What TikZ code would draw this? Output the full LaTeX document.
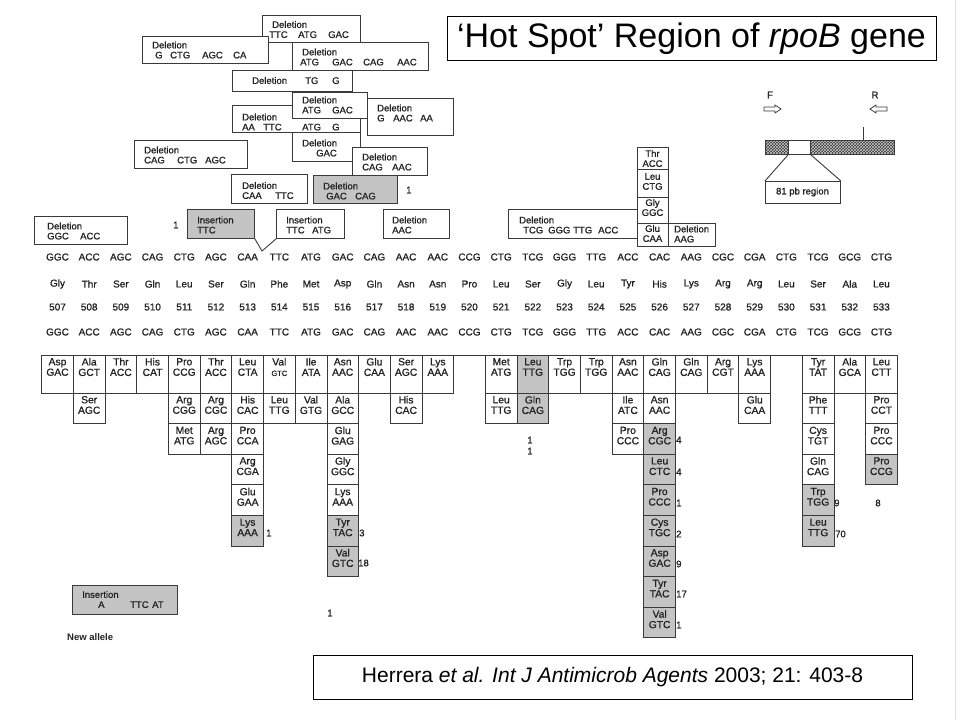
\documentclass[tikz,border=0pt]{standalone}
\usepackage{fontspec}
\setmainfont{Liberation Sans}
\newfontfamily\scanf{Liberation Sans}[FakeBold=0.9]
\usetikzlibrary{patterns}
\definecolor{ink}{HTML}{222222}
\definecolor{shade}{HTML}{C4C4C4}
\definecolor{edge}{HTML}{3A3A3A}
\tikzset{
  sm/.style={font=\scanf\fontsize{9.5}{10}\selectfont, text=ink, inner sep=0pt},
  cod/.style={font=\scanf\fontsize{10}{10.5}\selectfont, text=ink, inner sep=0pt},
  boxw/.style={draw=edge, line width=0.9pt, fill=white},
  boxg/.style={draw=edge, line width=0.9pt, fill=shade},
  cellline/.style={draw=edge, line width=0.7pt},
  celltxt/.style={font=\scanf\fontsize{10.3}{10.5}\selectfont, text=ink, inner sep=0pt, align=center},
  deltxt/.style={sm, align=left, anchor=west},
  cnt/.style={sm, anchor=west},
  frame/.style={draw=black, line width=0.9pt, fill=white, inner sep=0pt}
}
\newcommand\tkn[2]{\makebox[#1pt][l]{#2}}
\newcommand\dbx[6]{%
  \pgfmathsetmacro\bw{#5-#3}\pgfmathsetmacro\bh{#6-#4}%
  \node[#2, minimum width=\bw pt, minimum height=\bh pt, inner sep=0pt, anchor=north west] (#1) at (#3,#4) {};}
\newcommand\mcell[5]{%
  \pgfmathsetmacro\cx{57.5+#1*31.69}%
  \pgfmathsetmacro\xa{\cx-15.85}%
  \pgfmathsetmacro\xb{\cx+15.85}%
  \ifnum#2=0 \def\ya{355}\def\yb{393}\def\yt{367}\else
  \pgfmathsetmacro\ya{393+(#2-1)*30.6}\pgfmathsetmacro\yb{\ya+30.6}\pgfmathsetmacro\yt{\ya+12}\fi
  \draw[cellline, fill=#3] (\xa,\ya) rectangle (\xb,\yb);
  \node[celltxt] (m-#1-#2) at (\cx,\yt) {#4\\#5};}
\begin{document}
\begin{tikzpicture}[x=1pt,y=-1pt]
\useasboundingbox (0,0) rectangle (960,720);
\fill[white] (0,0) rectangle (960,720);
\draw[gray!25, line width=1pt] (955,0) -- (955,720);

% ---------- deletion / insertion boxes ----------
\dbx{dA}{boxw}{262}{15}{360}{42}
\node[deltxt] (dAt) at (269,29.5) {\hspace*{3pt}Deletion\\\tkn{29}{TTC}\tkn{30}{ATG}GAC};
\dbx{dB}{boxw}{142}{36}{268}{63}
\node[deltxt] (dBt) at (152,50) {Deletion\\\hspace*{3pt}\tkn{15}{G}\tkn{32}{CTG}\tkn{31}{AGC}CA};
\dbx{dC}{boxw}{292}{42}{428}{70}
\node[deltxt] (dCt) at (300,57) {\hspace*{2pt}Deletion\\\tkn{32}{ATG}\tkn{31}{GAC}\tkn{34}{CAG}AAC};
\dbx{dD}{boxw}{232}{70}{352}{91}
\node[deltxt] (dDt) at (252,80.5) {\tkn{53}{Deletion}\tkn{27}{TG}G};
\dbx{dF}{boxw}{232}{105}{360}{132}
\node[deltxt] (dFt) at (242,122) {Deletion\\\tkn{21}{AA}\tkn{39}{TTC}\tkn{30}{ATG}G};
\dbx{dE}{boxw}{292}{92}{367}{118}
\node[deltxt] (dEt) at (302,105) {Deletion\\\tkn{30}{ATG}GAC};
\dbx{dG}{boxw}{367}{98}{453}{135}
\node[deltxt] (dGt) at (377,113) {Deletion\\\tkn{16}{G}\tkn{27}{AAC}AA};
\dbx{dH}{boxw}{134}{140}{247}{168}
\node[deltxt] (dHt) at (144,155) {Deletion\\\tkn{33}{CAG}\tkn{28}{CTG}AGC};
\dbx{dI}{boxw}{292}{132}{360}{161}
\node[deltxt] (dIt) at (302,148) {Deletion\\\hspace*{14pt}GAC};
\dbx{dJ}{boxw}{352}{147}{427}{175}
\node[deltxt] (dJt) at (362,162) {Deletion\\\tkn{30}{CAG}AAC};
\dbx{dK}{boxw}{231}{174}{307}{203}
\node[deltxt] (dKt) at (242,190.5) {Deletion\\\tkn{33}{CAA}TTC};
\dbx{dL}{boxg}{313}{175}{397}{203}
\node[deltxt] (dLt) at (323,191) {Deletion\\\hspace*{3pt}\tkn{29}{GAC}CAG};
\node[cnt] (dLn) at (406,190) {1};
\dbx{dM}{boxg}{187}{209}{254}{238}
\node[deltxt] (dMt) at (197,225) {Insertion\\TTC};
\node[cnt] (dMn) at (173,225) {1};
\dbx{dN}{boxw}{276}{209}{344}{238}
\node[deltxt] (dNt) at (286,225) {Insertion\\\tkn{26}{TTC}ATG};
\dbx{dO}{boxw}{383}{209}{449}{238}
\node[deltxt] (dOt) at (392,225) {Deletion\\AAC};
\dbx{dP}{boxw}{34}{216}{127}{244}
\node[deltxt] (dPt) at (47,231) {Deletion\\\tkn{33}{GGC}ACC};
\dbx{dQ}{boxw}{508}{209}{637}{238}
\node[deltxt] (dQt) at (519,225) {Deletion\\\hspace*{4pt}\tkn{25}{TCG}\tkn{25}{GGG}\tkn{25}{TTG}ACC};
\dbx{s1}{boxw}{637}{147}{668}{169}
\node[sm, align=center] (s1t) at (652.5,158.5) {Thr\\ACC};
\dbx{s2}{boxw}{637}{169}{668}{197}
\node[sm, align=center] (s2t) at (652.5,181.5) {Leu\\CTG};
\dbx{s3}{boxw}{637}{197}{668}{223}
\node[sm, align=center] (s3t) at (652.5,207.5) {Gly\\GGC};
\dbx{s4}{boxw}{637}{223}{668}{246}
\node[sm, align=center] (s4t) at (652.5,233.5) {Glu\\CAA};
\dbx{dR}{boxw}{668}{223}{715}{246}
\node[deltxt] (dRt) at (674,234) {Deletion\\AAG};
% insertion caret
\coordinate (caret) at (262,251);
\draw[edge, line width=0.9pt] (dM.south east) -- (caret) -- (dN.south west);

% ---------- codon rows ----------
\foreach \c [count=\i from 0] in {GGC,ACC,AGC,CAG,CTG,AGC,CAA,TTC,ATG,GAC,CAG,AAC,AAC,CCG,CTG,TCG,GGG,TTG,ACC,CAC,AAG,CGC,CGA,CTG,TCG,GCG,CTG}{
  \node[cod] (ca\i) at ({57.5+\i*31.69},257) {\c};
  \node[cod] (cb\i) at ({57.5+\i*31.69},332) {\c};
  \pgfmathtruncatemacro\n{507+\i}
  \node[cod] (nu\i) at ({57.5+\i*31.69},307) {\n};
}
\foreach \a [count=\i from 0] in {Gly,Thr,Ser,Gln,Leu,Ser,Gln,Phe,Met,Asp,Gln,Asn,Asn,Pro,Leu,Ser,Gly,Leu,Tyr,His,Lys,Arg,Arg,Leu,Ser,Ala,Leu}{
  \node[cod] (aa\i) at ({57.5+\i*31.69},284) {\a};
}

% ---------- mutation table ----------
\draw[cellline] (41.6,355) -- (897.3,355);
\mcell{0}{0}{white}{Asp}{GAC}
\mcell{1}{0}{white}{Ala}{GCT} \mcell{1}{1}{white}{Ser}{AGC}
\mcell{2}{0}{white}{Thr}{ACC}
\mcell{3}{0}{white}{His}{CAT}
\mcell{4}{0}{white}{Pro}{CCG} \mcell{4}{1}{white}{Arg}{CGG} \mcell{4}{2}{white}{Met}{ATG}
\mcell{5}{0}{white}{Thr}{ACC} \mcell{5}{1}{white}{Arg}{CGC} \mcell{5}{2}{white}{Arg}{AGC}
\mcell{6}{0}{white}{Leu}{CTA} \mcell{6}{1}{white}{His}{CAC} \mcell{6}{2}{white}{Pro}{CCA}
\mcell{6}{3}{white}{Arg}{CGA} \mcell{6}{4}{white}{Glu}{GAA} \mcell{6}{5}{shade}{Lys}{AAA}
\mcell{7}{0}{white}{Val}{{\fontsize{7.5}{8}\selectfont GTC}} \mcell{7}{1}{white}{Leu}{TTG}
\mcell{8}{0}{white}{Ile}{ATA} \mcell{8}{1}{white}{Val}{GTG}
\mcell{9}{0}{white}{Asn}{AAC} \mcell{9}{1}{white}{Ala}{GCC} \mcell{9}{2}{white}{Glu}{GAG}
\mcell{9}{3}{white}{Gly}{GGC} \mcell{9}{4}{white}{Lys}{AAA} \mcell{9}{5}{shade}{Tyr}{TAC} \mcell{9}{6}{shade}{Val}{GTC}
\mcell{10}{0}{white}{Glu}{CAA}
\mcell{11}{0}{white}{Ser}{AGC} \mcell{11}{1}{white}{His}{CAC}
\mcell{12}{0}{white}{Lys}{AAA}
\mcell{14}{0}{white}{Met}{ATG} \mcell{14}{1}{white}{Leu}{TTG}
\mcell{15}{0}{shade}{Leu}{TTG} \mcell{15}{1}{shade}{Gln}{CAG}
\mcell{16}{0}{white}{Trp}{TGG}
\mcell{17}{0}{white}{Trp}{TGG}
\mcell{18}{0}{white}{Asn}{AAC} \mcell{18}{1}{white}{Ile}{ATC} \mcell{18}{2}{white}{Pro}{CCC}
\mcell{19}{0}{white}{Gln}{CAG} \mcell{19}{1}{white}{Asn}{AAC} \mcell{19}{2}{shade}{Arg}{CGC}
\mcell{19}{3}{shade}{Leu}{CTC} \mcell{19}{4}{shade}{Pro}{CCC} \mcell{19}{5}{shade}{Cys}{TGC}
\mcell{19}{6}{shade}{Asp}{GAC} \mcell{19}{7}{shade}{Tyr}{TAC} \mcell{19}{8}{shade}{Val}{GTC}
\mcell{20}{0}{white}{Gln}{CAG}
\mcell{21}{0}{white}{Arg}{CGT}
\mcell{22}{0}{white}{Lys}{AAA} \mcell{22}{1}{white}{Glu}{CAA}
\mcell{24}{0}{white}{Tyr}{TAT} \mcell{24}{1}{white}{Phe}{TTT} \mcell{24}{2}{white}{Cys}{TGT}
\mcell{24}{3}{white}{Gln}{CAG} \mcell{24}{4}{shade}{Trp}{TGG} \mcell{24}{5}{shade}{Leu}{TTG}
\mcell{25}{0}{white}{Ala}{GCA}
\mcell{26}{0}{white}{Leu}{CTT} \mcell{26}{1}{white}{Pro}{CCT} \mcell{26}{2}{white}{Pro}{CCC} \mcell{26}{3}{shade}{Pro}{CCG}

% counts
\node[cnt] (n1) at (266,533) {1};
\node[cnt] (n2) at (359,533) {3};
\node[cnt] (n3) at (358,563) {18};
\node[sm] (n4) at (530,440) {1};
\node[sm] (n5) at (530,451) {1};
\node[cnt] (n6) at (676,440) {4};
\node[cnt] (n7) at (676,472) {4};
\node[cnt] (n8) at (676,503) {1};
\node[cnt] (n9) at (676,534) {2};
\node[cnt] (n10) at (676,564) {9};
\node[cnt] (n11) at (676,594) {17};
\node[cnt] (n12) at (676,625) {1};
\node[cnt] (n13) at (834,503) {9};
\node[cnt] (n14) at (835,534) {70};
\node[sm] (n15) at (878,503) {8};
\node[sm] (n16) at (330,613) {1};

% legend
\dbx{leg}{boxg}{72}{585}{177}{614}
\node[deltxt] (legt) at (82,599.5) {Insertion\\\hspace*{16pt}\tkn{32}{A}\tkn{22}{TTC}AT};
\node[cnt, font=\bfseries\fontsize{9.5}{10}\selectfont] (newal) at (67,637) {New allele};

% ---------- schematic ----------
\node[sm] (Flab) at (770,95) {F};
\node[sm] (Rlab) at (875,95) {R};
\draw[edge, line width=0.8pt, fill=white] (764,107)--(775,107)--(775,105)--(781,109)--(775,113)--(775,111)--(764,111)--cycle;
\draw[edge, line width=0.8pt, fill=white] (887,107)--(876,107)--(876,105)--(870,109)--(876,113)--(876,111)--(887,111)--cycle;
\coordinate (tickTop) at (863,127);
\coordinate (tickBot) at (863,140);
\draw[edge, line width=0.8pt] (tickTop) -- (tickBot);
\fill[gray!40!black] (765,140) rectangle (894,154);
\fill[pattern=crosshatch, pattern color=gray!40] (765,140) rectangle (894,154);
\draw[edge, line width=0.9pt] (765,140) rectangle (894,154);
\dbx{gap}{boxw}{788}{140}{810}{154}
\dbx{reg}{boxw}{765}{181}{840}{203}
\node[sm] (regt) at (802.5,192) {81 pb region};
\draw[edge, line width=0.9pt] (gap.south west) -- (reg.north west);
\draw[edge, line width=0.9pt] (gap.south east) -- (reg.north east);

% ---------- title and citation ----------
\dbx{title}{frame}{447}{16}{936}{60}
\node[font=\fontsize{34}{36}\selectfont, inner sep=0pt] (titlet) at (691.5,38.5) {‘Hot Spot’ Region of \textit{rpoB} gene};
\dbx{cite}{frame}{313}{655}{912}{699}
\node[font=\fontsize{21}{24}\selectfont, inner sep=0pt] (citet) at (612.5,677) {Herrera \textit{et al. Int J Antimicrob Agents} 2003; 21: 403-8};
\end{tikzpicture}
\end{document}
